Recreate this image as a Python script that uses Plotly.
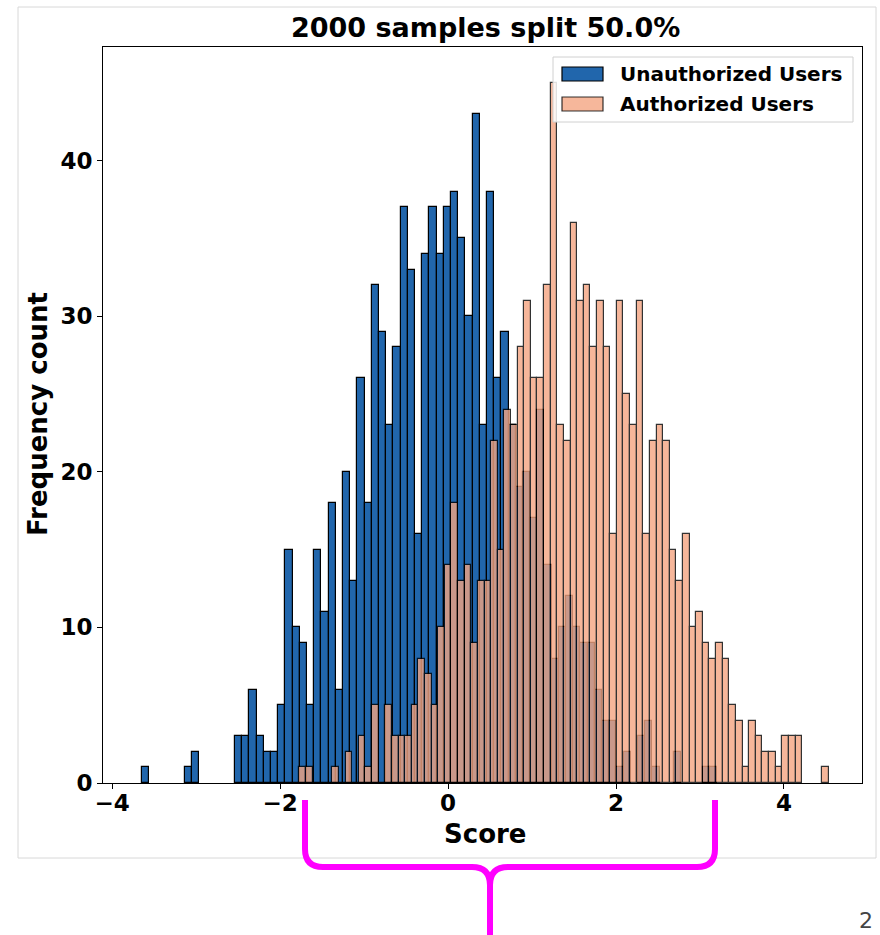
import plotly.graph_objects as go

# ---- data: two score histograms, 80 equal-width bins each ----
unauth_counts = [
    1, 0, 0, 0, 0, 0, 1, 2, 0, 0,
    0, 0, 0, 3, 3, 6, 3, 2, 2, 5,
    15, 10, 9, 5, 15, 11, 18, 6, 20, 13,
    26, 18, 32, 29, 23, 28, 37, 33, 16, 34,
    37, 34, 37, 38, 35, 30, 43, 23, 38, 26,
    29, 23, 19, 20, 17, 24, 14, 8, 10, 12,
    10, 9, 9, 6, 4, 4, 1, 2, 0, 3,
    4, 1, 0, 0, 2, 0, 0, 0, 1, 1,
]
auth_counts = [
    1, 1, 0, 0, 0, 1, 0, 2, 0, 3,
    1, 5, 0, 5, 3, 3, 3, 5, 8, 7,
    5, 10, 14, 18, 13, 14, 9, 13, 13, 22,
    15, 24, 23, 28, 31, 26, 26, 32, 45, 23,
    22, 36, 31, 32, 28, 31, 28, 16, 31, 25,
    23, 31, 16, 22, 23, 22, 15, 13, 16, 10,
    11, 9, 8, 9, 8, 5, 4, 1, 4, 3,
    2, 2, 1, 3, 3, 3, 0, 0, 0, 1,
]
# histogram bin edges (score units)
unauth_bin_start = -3.651
unauth_bin_width = 0.0857
auth_bin_start = -1.772
auth_bin_width = 0.0788

series_names = ["Unauthorized Users", "Authorized Users"]
x_ticks = [-4, -2, 0, 2, 4]
y_ticks = [0, 10, 20, 30, 40]

BLUE = "#2166ac"
SALMON = "#f4a582"
SALMON_ALPHA = 0.8
FONT = "DejaVu Sans"
EDGE_W = 1.2

# ---- page geometry (pixels) ----
W, H = 880, 935
L, R, T, B = 103, 862, 47, 783


def px(x):
    return (x - L) / (R - L)


def py(y):
    return (B - y) / (B - T)


def centers(start, width, n):
    return [start + width * (i + 0.5) for i in range(n)]


def edge_widths(counts):
    # empty bins get no outline so they do not thicken the baseline
    return [EDGE_W if c > 0 else 0 for c in counts]


fig = go.Figure()
fig.add_trace(go.Bar(
    x=centers(unauth_bin_start, unauth_bin_width, len(unauth_counts)),
    y=unauth_counts,
    width=unauth_bin_width,
    name=series_names[0],
    marker=dict(color=BLUE, line=dict(color="black", width=edge_widths(unauth_counts))),
    showlegend=False,
))
fig.add_trace(go.Bar(
    x=centers(auth_bin_start, auth_bin_width, len(auth_counts)),
    y=auth_counts,
    width=auth_bin_width,
    name=series_names[1],
    opacity=SALMON_ALPHA,
    marker=dict(color=SALMON, line=dict(color="black", width=edge_widths(auth_counts))),
    showlegend=False,
))

shapes = []
annotations = []

# outer page frame
shapes.append(dict(type="rect", xref="paper", yref="paper",
                   x0=px(18), x1=px(876), y0=py(7), y1=py(858),
                   line=dict(color="#d8d8d8", width=1), layer="below"))

# legend box and patches
shapes.append(dict(type="rect", xref="paper", yref="paper",
                   x0=px(553), x1=px(853), y0=py(57), y1=py(122),
                   line=dict(color="#d0d0d0", width=1),
                   fillcolor="rgba(255,255,255,0.85)"))
shapes.append(dict(type="rect", xref="paper", yref="paper",
                   x0=px(562), x1=px(603), y0=py(67), y1=py(81),
                   line=dict(color="black", width=EDGE_W), fillcolor=BLUE))
shapes.append(dict(type="rect", xref="paper", yref="paper",
                   x0=px(562), x1=px(603), y0=py(97), y1=py(111),
                   line=dict(color="rgba(0,0,0,0.8)", width=EDGE_W),
                   fillcolor="rgba(244,165,130,0.8)"))
for name, ytxt in zip(series_names, [74, 104]):
    annotations.append(dict(xref="paper", yref="paper", x=px(618), y=py(ytxt),
                            xanchor="left", yanchor="middle", showarrow=False,
                            text=name,
                            font=dict(family=FONT, size=20, color="black", weight="bold")))


# magenta brace under the score axis
def P(x, y):
    return f"{px(x):.5f},{py(y):.5f}"


brace = (
    f"M{P(305, 800)} L{P(305, 849)} Q{P(305, 867)} {P(323, 867)} "
    f"L{P(472, 867)} Q{P(490, 867)} {P(490, 885)} L{P(490, 940)} "
    f"M{P(715, 800)} L{P(715, 849)} Q{P(715, 867)} {P(697, 867)} "
    f"L{P(508, 867)} Q{P(490, 867)} {P(490, 885)}"
)
shapes.append(dict(type="path", xref="paper", yref="paper", path=brace,
                   line=dict(color="#ff00ff", width=6)))

# title, axis titles, page number
annotations.append(dict(xref="paper", yref="paper", x=px(485), y=py(28),
                        xanchor="center", yanchor="middle", showarrow=False,
                        text="2000 samples split 50.0%",
                        font=dict(family=FONT, size=27, color="black", weight="bold")))
annotations.append(dict(xref="paper", yref="paper", x=px(485), y=py(834),
                        xanchor="center", yanchor="middle", showarrow=False,
                        text="Score",
                        font=dict(family=FONT, size=26, color="black", weight="bold")))
annotations.append(dict(xref="paper", yref="paper", x=px(38), y=py(414),
                        xanchor="center", yanchor="middle", showarrow=False,
                        text="Frequency count", textangle=-90,
                        font=dict(family=FONT, size=26, color="black", weight="bold")))
annotations.append(dict(xref="paper", yref="paper", x=px(875), y=py(920),
                        xanchor="right", yanchor="middle", showarrow=False,
                        text="2",
                        font=dict(family=FONT, size=22, color="#444444")))

axis_common = dict(
    showline=True, mirror=True, linecolor="black", linewidth=1,
    ticks="outside", ticklen=5, tickwidth=1, tickcolor="black",
    showgrid=False, zeroline=False,
    tickfont=dict(family=FONT, size=23, color="black", weight="bold"),
)

fig.update_layout(
    width=W, height=H,
    margin=dict(l=L, r=W - R, t=T, b=H - B, autoexpand=False),
    paper_bgcolor="white", plot_bgcolor="white",
    barmode="overlay", bargap=0,
    showlegend=False,
    xaxis=dict(range=[-4.11, 4.93], tickvals=x_ticks, ticklabelstandoff=-6, **axis_common),
    yaxis=dict(range=[0, 47.3], tickvals=y_ticks, **axis_common),
    shapes=shapes,
    annotations=annotations,
)

fig.write_html("out.html")
